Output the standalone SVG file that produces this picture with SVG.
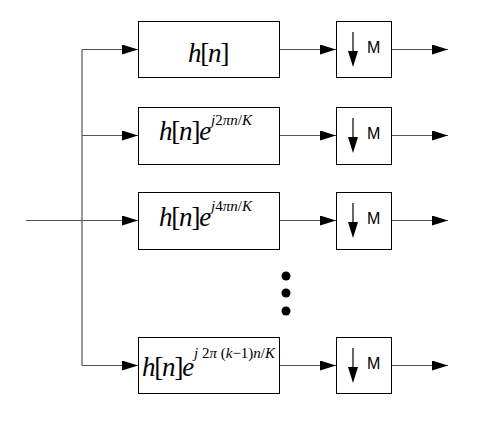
<svg xmlns="http://www.w3.org/2000/svg" width="487" height="425" viewBox="0 0 487 425">
<style>
.box{fill:#fff;stroke:#000;stroke-width:1}
.ln{fill:none;stroke:#555;stroke-width:1.2}
.mt{font-family:"Liberation Serif","Times New Roman",serif;font-size:27px;fill:#000;letter-spacing:-1.2px}
.i{font-style:italic}
.sup{font-size:15px;letter-spacing:0}
.m{font-family:"Liberation Sans",Arial,sans-serif;font-size:16px;fill:#000}
</style>
<defs>
<marker id="ah" markerWidth="16" markerHeight="10" refX="16" refY="5" orient="auto" markerUnits="userSpaceOnUse">
<path d="M0,0 L16,5 L0,10 Z" fill="#000"/>
</marker>
</defs>
<rect width="487" height="425" fill="#fff"/>
<g id="connectors">
<path class="ln" d="M26,220.5 H82"/>
<path class="ln" d="M82,49.5 V365.5"/>
<path class="ln" d="M82,49.5 H138" marker-end="url(#ah)"/>
<path class="ln" d="M82,135.5 H138" marker-end="url(#ah)"/>
<path class="ln" d="M82,220.5 H138" marker-end="url(#ah)"/>
<path class="ln" d="M82,365.5 H138" marker-end="url(#ah)"/>
<path class="ln" d="M279,49.5 H336" marker-end="url(#ah)"/>
<path class="ln" d="M279,135.5 H336" marker-end="url(#ah)"/>
<path class="ln" d="M279,220.5 H336" marker-end="url(#ah)"/>
<path class="ln" d="M279,365.5 H336" marker-end="url(#ah)"/>
<path class="ln" d="M391,49.5 H448" marker-end="url(#ah)"/>
<path class="ln" d="M391,135.5 H448" marker-end="url(#ah)"/>
<path class="ln" d="M391,220.5 H448" marker-end="url(#ah)"/>
<path class="ln" d="M391,365.5 H448" marker-end="url(#ah)"/>
</g>
<g id="filter1">
<rect class="box" x="138.5" y="21.5" width="141" height="56"/>
<text class="mt" x="188" y="62"><tspan class="i">h</tspan>[<tspan class="i">n</tspan>]</text>
</g>
<g id="filter2">
<rect class="box" x="138.5" y="107.5" width="141" height="57"/>
<text class="mt" x="159" y="140"><tspan class="i">h</tspan>[<tspan class="i">n</tspan>]<tspan class="i">e</tspan><tspan class="sup" dx="1" dy="-15"><tspan class="i">j</tspan>2<tspan class="i">πn</tspan>/<tspan class="i">K</tspan></tspan></text>
</g>
<g id="filter3">
<rect class="box" x="138.5" y="192.5" width="141" height="57"/>
<text class="mt" x="159" y="226"><tspan class="i">h</tspan>[<tspan class="i">n</tspan>]<tspan class="i">e</tspan><tspan class="sup" dx="1" dy="-15"><tspan class="i">j</tspan>4<tspan class="i">πn</tspan>/<tspan class="i">K</tspan></tspan></text>
</g>
<g id="filter4">
<rect class="box" x="138.5" y="337.5" width="141" height="56"/>
<text class="mt" x="142" y="376"><tspan class="i">h</tspan>[<tspan class="i">n</tspan>]<tspan class="i">e</tspan><tspan class="sup" dx="1" dy="-18"><tspan class="i">j</tspan> 2<tspan class="i">π</tspan> (<tspan class="i">k</tspan>−1)<tspan class="i">n</tspan>/<tspan class="i">K</tspan></tspan></text>
</g>
<g id="down1">
<rect class="box" x="336.5" y="21.5" width="55" height="56"/>
<path d="M353,32 V52" stroke="#000" stroke-width="1.2"/>
<path d="M348,51 L358,51 L353,67 Z" fill="#000"/>
<text class="m" x="367" y="53">M</text>
</g>
<g id="down2">
<rect class="box" x="336.5" y="107.5" width="55" height="57"/>
<path d="M353,118 V138" stroke="#000" stroke-width="1.2"/>
<path d="M348,137 L358,137 L353,153 Z" fill="#000"/>
<text class="m" x="367" y="139">M</text>
</g>
<g id="down3">
<rect class="box" x="336.5" y="192.5" width="55" height="57"/>
<path d="M353,203 V223" stroke="#000" stroke-width="1.2"/>
<path d="M348,222 L358,222 L353,238 Z" fill="#000"/>
<text class="m" x="367" y="224">M</text>
</g>
<g id="down4">
<rect class="box" x="336.5" y="337.5" width="55" height="56"/>
<path d="M353,348 V368" stroke="#000" stroke-width="1.2"/>
<path d="M348,367 L358,367 L353,383 Z" fill="#000"/>
<text class="m" x="367" y="369">M</text>
</g>
<g id="dots" fill="#000">
<circle cx="286" cy="276" r="4.5"/>
<circle cx="286" cy="293" r="4.5"/>
<circle cx="286" cy="311" r="4.5"/>
</g>
</svg>
